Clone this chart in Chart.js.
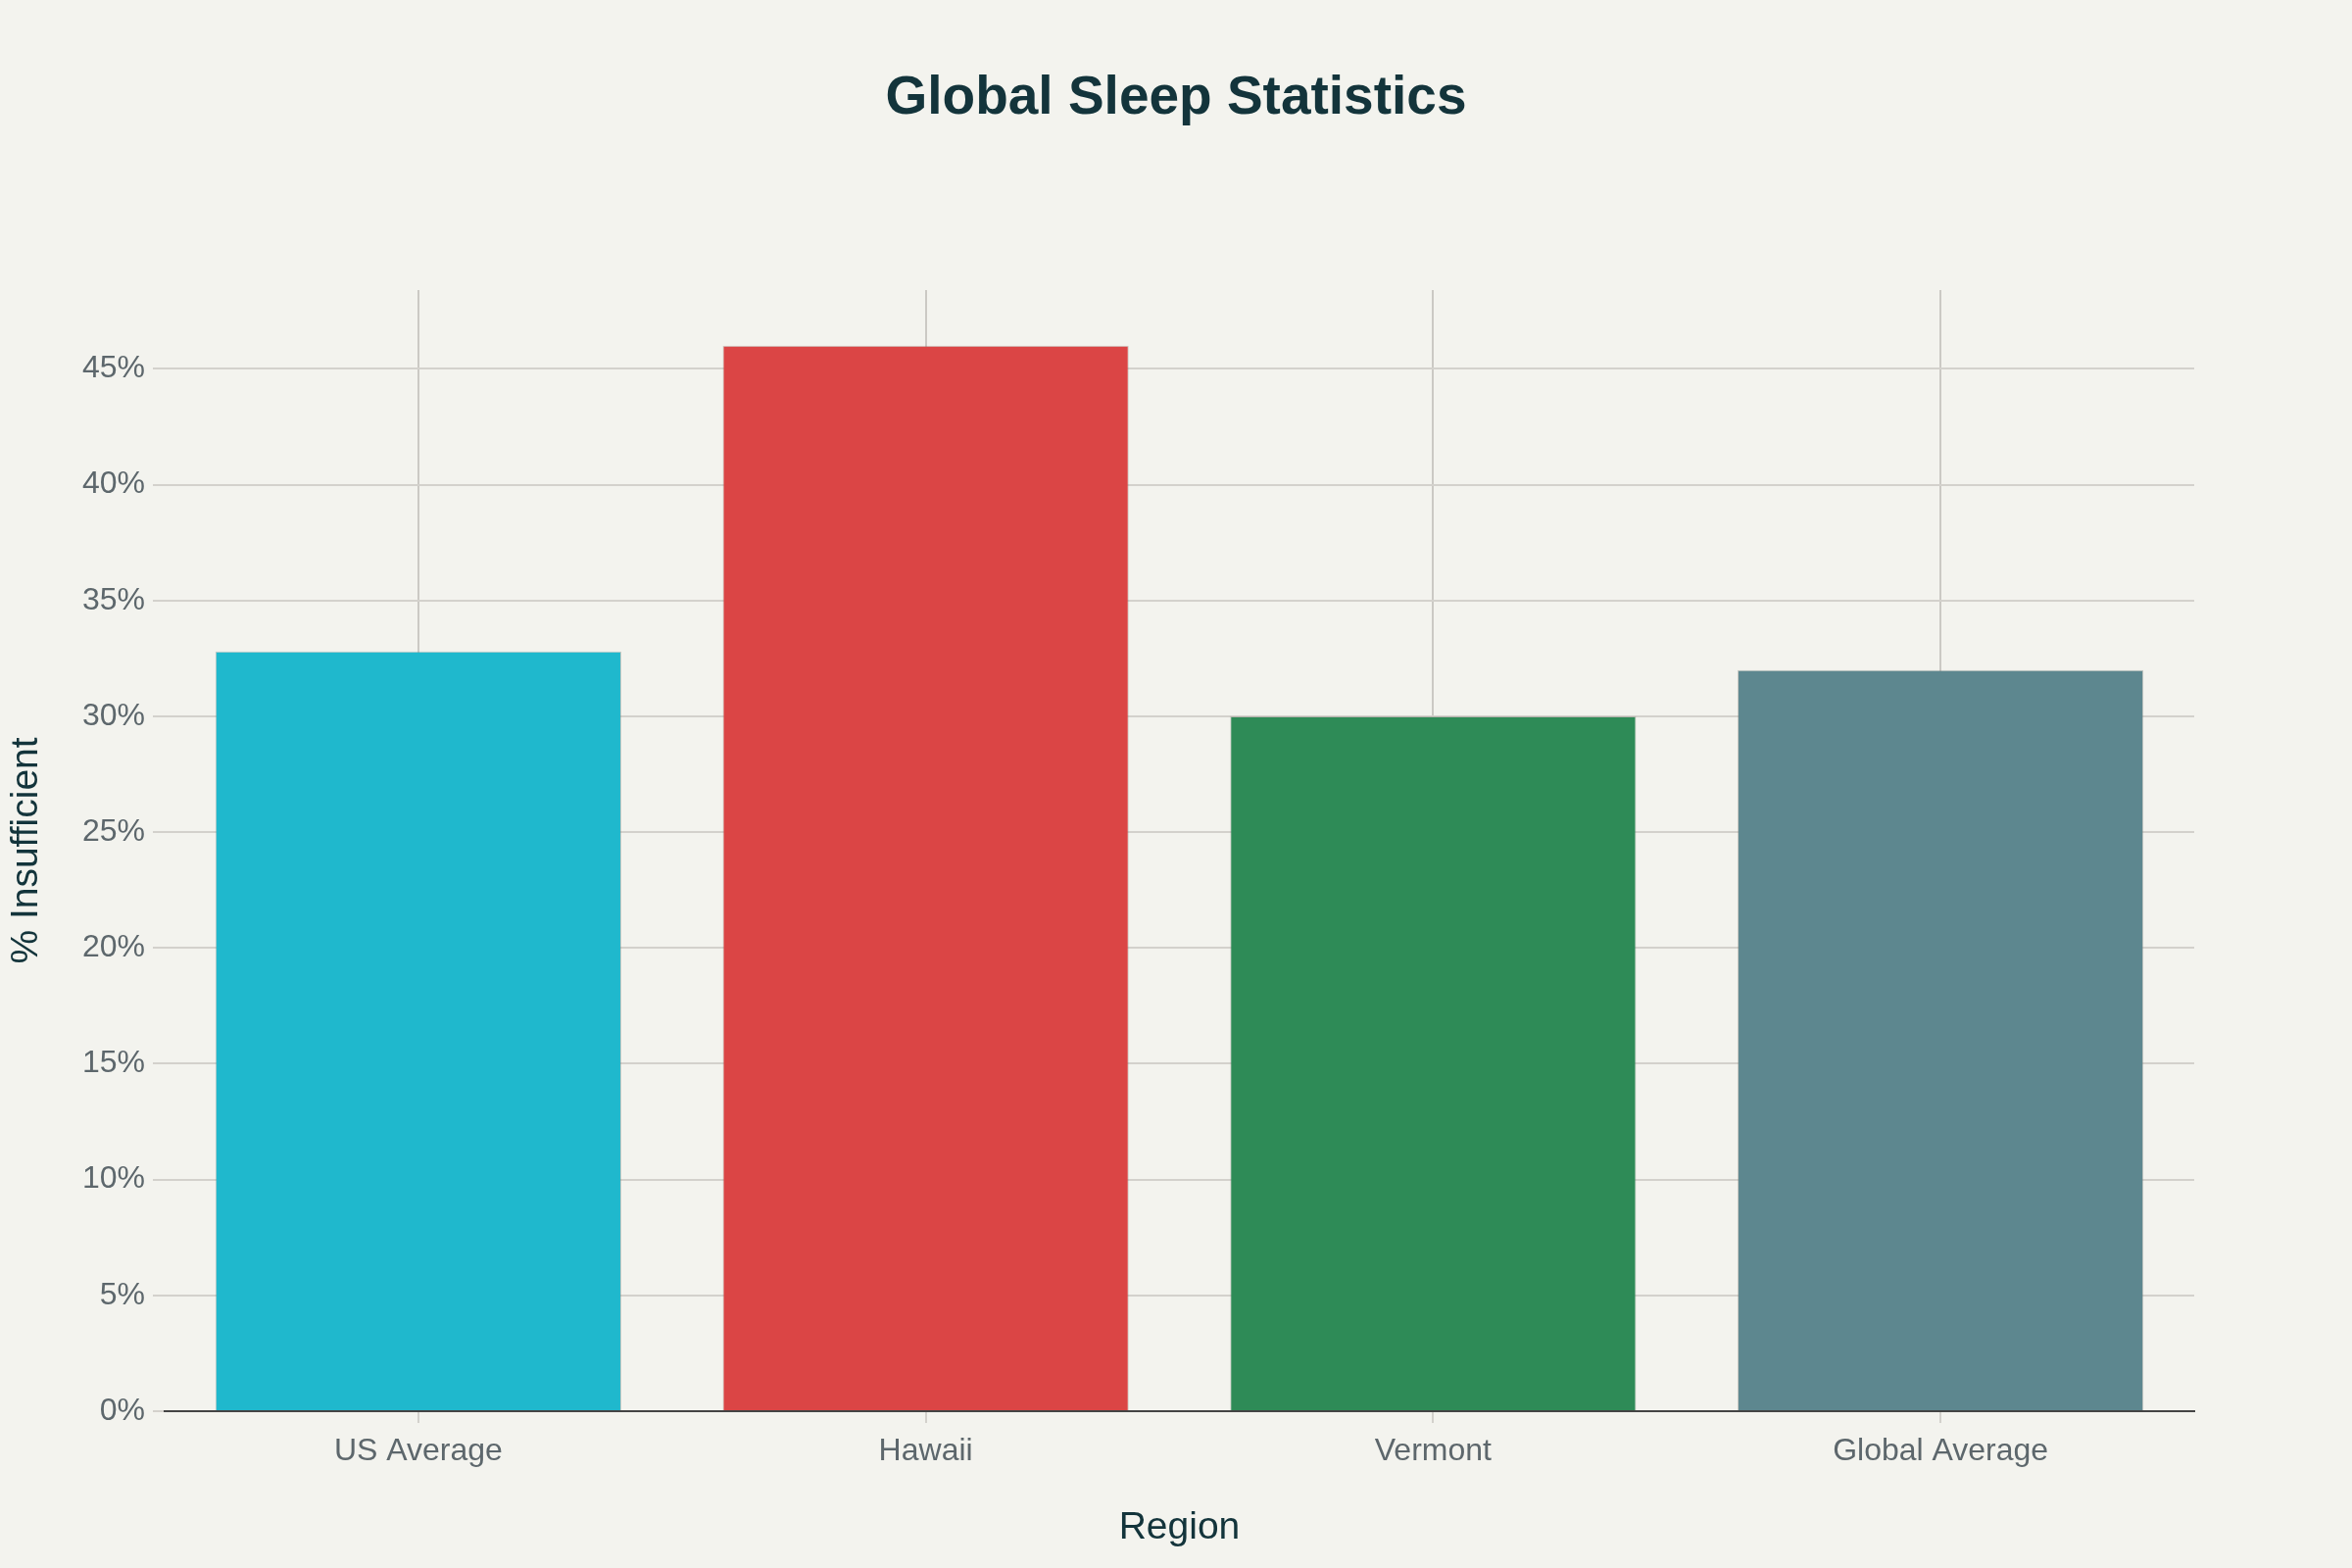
<!DOCTYPE html>
<html>
<head>
<meta charset="utf-8">
<title>Global Sleep Statistics</title>
<script src="https://cdn.jsdelivr.net/npm/chart.js@4.4.1/dist/chart.umd.min.js"></script>
<style>
  html, body { margin: 0; padding: 0; background: #F3F3EE; }
  #wrap { width: 2400px; height: 1600px; position: relative; }
</style>
</head>
<body>
<div id="wrap"><canvas id="sleepChart"></canvas></div>
<script>
// Data
const regions = ['US Average', 'Hawaii', 'Vermont', 'Global Average'];
const insufficientPct = [32.8, 46, 30, 32];
const barColors = ['#1FB8CD', '#DB4545', '#2E8B57', '#5D878F'];

const yMax = 48.4;
const yStep = 5;

const titleColor = '#13343B';
const tickColor = '#5D676C';
const gridColor = '#D3D1CC';

Chart.defaults.font.family = "'Liberation Sans', Arial, sans-serif";

const ctx = document.getElementById('sleepChart').getContext('2d');

const sleepChart = new Chart(ctx, {
    type: 'bar',
    data: {
        labels: regions,
        datasets: [{
            label: '% Insufficient',
            data: insufficientPct,
            backgroundColor: barColors,
            borderColor: 'rgba(120,120,110,0.35)',
            borderWidth: 1,
            categoryPercentage: 0.8,
            barPercentage: 1.0
        }]
    },
    options: {
        responsive: true,
        maintainAspectRatio: false,
        devicePixelRatio: 1,
        animation: false,
        layout: {
            padding: 0
        },
        plugins: {
            legend: { display: false },
            tooltip: { enabled: false },
            title: {
                display: true,
                text: 'Global Sleep Statistics',
                color: titleColor,
                font: { size: 55, weight: 'bold' },
                padding: { top: 68, bottom: 162 }
            }
        },
        scales: {
            x: {
                grid: {
                    display: true,
                    offset: false,
                    color: '#CBC9C4',
                    lineWidth: 2,
                    drawTicks: true,
                    tickLength: 12,
                    tickColor: '#D3D1CC'
                },
                border: { display: true, color: '#444444', width: 2 },
                ticks: {
                    color: tickColor,
                    font: { size: 32 },
                    padding: 10
                },
                title: {
                    display: true,
                    text: 'Region',
                    color: titleColor,
                    font: { size: 39 },
                    padding: { top: 0, bottom: 17 }
                },
                afterFit: (scale) => { scale.height = 160; }
            },
            y: {
                min: 0,
                max: yMax,
                grid: {
                    color: (c) => (c.tick && c.tick.value === 0) ? 'rgba(0,0,0,0)' : gridColor,
                    lineWidth: 2,
                    tickLength: 12,
                    tickColor: gridColor
                },
                border: { display: false },
                ticks: {
                    stepSize: yStep,
                    includeBounds: false,
                    color: tickColor,
                    font: { size: 32 },
                    padding: 8,
                    callback: (v) => v + '%'
                },
                title: {
                    display: true,
                    text: '% Insufficient',
                    color: titleColor,
                    font: { size: 39 },
                    padding: { top: 4, bottom: 0 }
                },
                afterFit: (scale) => { scale.width = 168; }
            },
            // empty right-hand axis that only reserves the right margin,
            // so the title stays centred on the whole canvas
            yGap: {
                position: 'right',
                min: 0,
                max: yMax,
                grid: { display: false },
                border: { display: false },
                ticks: { display: false },
                afterFit: (scale) => { scale.width = 161; }
            }
        }
    }
});
</script>
</body>
</html>
